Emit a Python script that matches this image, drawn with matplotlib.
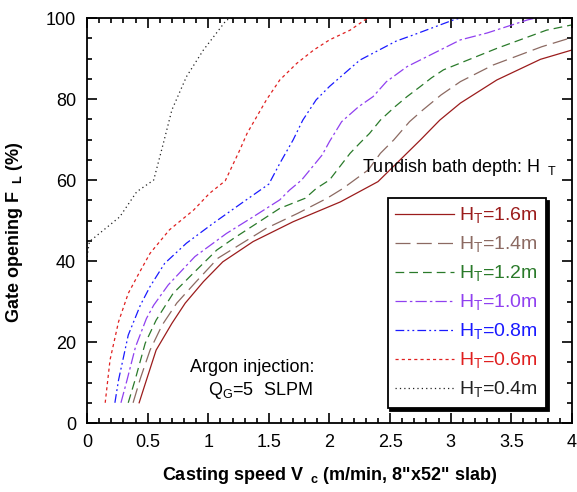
import matplotlib
matplotlib.use('Agg')
import matplotlib.pyplot as plt
from matplotlib.ticker import MultipleLocator, FuncFormatter

plt.rcParams['font.family'] = ['Liberation Sans', 'DejaVu Sans']
plt.rcParams['mathtext.fontset'] = 'custom'
plt.rcParams['mathtext.rm'] = 'Liberation Sans'
plt.rcParams['mathtext.bf'] = 'Liberation Sans:bold'

# Gate opening curves for each tundish bath depth H_T
labels = ['1.6m', '1.4m', '1.2m', '1.0m', '0.8m', '0.6m', '0.4m']

v_16 = [0.43, 0.49, 0.57, 0.70, 0.81, 0.96, 1.12, 1.37, 1.70, 2.09, 2.40, 2.75, 2.91, 3.08, 3.38, 3.74, 4.0]
f_16 = [5, 10.6, 18.0, 24.6, 29.6, 34.9, 39.8, 44.8, 49.7, 54.6, 59.6, 69.9, 74.8, 79.0, 84.7, 89.8, 92.1]

v_14 = [0.38, 0.44, 0.52, 0.62, 0.74, 0.90, 1.08, 1.48, 1.74, 1.98, 2.11, 2.32, 2.42, 2.53, 2.66, 2.77,
        2.92, 3.08, 3.35, 3.75, 4.0]
f_14 = [5, 11.0, 18.0, 24.2, 29.6, 34.9, 40.7, 48.1, 51.8, 55.5, 57.9, 62.5, 66.6, 69.9, 74.4, 77.3,
        81.0, 84.3, 88.4, 92.9, 95.2]

v_12 = [0.34, 0.40, 0.48, 0.57, 0.71, 0.86, 1.07, 1.21, 1.40, 1.59, 1.80, 1.89, 2.0, 2.17, 2.25, 2.33,
        2.42, 2.54, 2.64, 2.75, 2.84, 2.94, 3.38, 3.79, 4.0]
f_12 = [5, 11.0, 19.7, 25.4, 32.0, 36.5, 42.7, 45.6, 49.3, 53.0, 55.5, 57.9, 60.0, 66.6, 69.1, 71.5,
        74.8, 78.1, 80.6, 83.1, 85.2, 87.2, 92.5, 97.0, 98.3]

v_10 = [0.28, 0.33, 0.40, 0.49, 0.55, 0.67, 0.89, 1.15, 1.37, 1.59, 1.67, 1.77, 1.94, 2.0, 2.10, 2.24,
        2.36, 2.47, 2.64, 2.94, 3.08, 3.30, 3.63, 3.70]
f_10 = [5, 10.6, 18.8, 25.8, 29.1, 34.1, 41.1, 46.8, 50.9, 55.1, 57.5, 60.0, 66.2, 69.5, 74.4, 78.1,
        80.6, 84.3, 88.0, 92.5, 94.6, 96.3, 99.5, 100]

v_08 = [0.23, 0.26, 0.34, 0.44, 0.52, 0.64, 0.82, 1.04, 1.29, 1.50, 1.59, 1.70, 1.78, 1.89, 2.0, 2.25,
        2.55, 2.69, 3.02, 3.08]
f_08 = [5, 10.6, 21.7, 29.1, 33.7, 39.4, 44.4, 49.3, 54.6, 59.0, 64.1, 69.9, 74.8, 79.8, 83.1, 89.6,
        94.3, 95.8, 99.5, 100]

v_06 = [0.15, 0.19, 0.26, 0.34, 0.42, 0.52, 0.68, 0.88, 1.01, 1.14, 1.26, 1.32, 1.48, 1.59, 1.73, 1.87,
        2.0, 2.17, 2.29, 2.33]
f_06 = [5, 15.6, 25.0, 32.0, 36.5, 41.9, 47.7, 52.6, 56.7, 59.8, 67.4, 71.5, 79.8, 84.7, 88.8, 92.1,
        94.6, 97.0, 99.5, 100]

v_04 = [0.0, 0.02, 0.27, 0.41, 0.55, 0.63, 0.70, 0.82, 0.96, 1.15, 1.20]
f_04 = [41, 44.8, 50.9, 57.1, 60.0, 69.1, 77.3, 85.5, 92.1, 99.5, 100]

speeds = [v_16, v_14, v_12, v_10, v_08, v_06, v_04]
openings = [f_16, f_14, f_12, f_10, f_08, f_06, f_04]
colors = ['#9b1c1c', '#8c6a62', '#2a7a2a', '#9040f0', '#1a1aff', '#e02020', '#222222']
dashes = [None, (12, 5), (7, 4), (9, 2.5, 2, 2.5), (7, 2.5, 1.5, 2.5, 1.5, 2.5), (2.5, 2.5), (1, 2.5)]

fig = plt.figure(figsize=(5.77, 4.92), dpi=100)
ax = fig.add_axes([0.1508, 0.1402, 0.8405, 0.8232])

for v, f, c, d, lab in zip(speeds, openings, colors, dashes, labels):
    line, = ax.plot(v, f, color=c, linewidth=0.9, label='H$_\\mathrm{T}$=' + lab)
    if d is not None:
        line.set_dashes(d)

ax.set_xlim(0, 4)
ax.set_ylim(0, 100)
ax.xaxis.set_major_locator(MultipleLocator(0.5))
ax.xaxis.set_minor_locator(MultipleLocator(0.1))
ax.yaxis.set_major_locator(MultipleLocator(20))
ax.yaxis.set_minor_locator(MultipleLocator(5))
ax.xaxis.set_major_formatter(FuncFormatter(lambda x, p: '%g' % x))
ax.tick_params(which='both', direction='in', top=True, right=True, labelsize=13, width=1.2)
ax.tick_params(which='major', length=7, pad=8)
ax.tick_params(which='minor', length=3.5)
for s in ax.spines.values():
    s.set_linewidth(1.3)

ax.set_xlabel('Casting speed V$_{\\mathbf{\\ \\ c}}$ (m/min, 8"x52" slab)', fontsize=13, fontweight='bold', labelpad=10)
ax.set_ylabel('Gate opening F$_{\\mathbf{\\ \\ L}}$ (%)', fontsize=13, fontweight='bold')
ax.yaxis.set_label_coords(-0.127, 0.47)

ax.text(2.27, 62, 'Tundish bath depth: H$_{\\mathrm{\\ \\ T}}$', fontsize=13)
ax.text(0.85, 12.5, 'Argon injection:', fontsize=13)
ax.text(1.0, 7, 'Q$_\\mathrm{G}$=5  SLPM', fontsize=13)

leg = ax.legend(loc='lower left', bbox_to_anchor=(0.62, 0.037, 0.326, 0.526), mode='expand',
                fontsize=14, handlelength=3.0, handletextpad=0.25, labelspacing=0.45,
                borderaxespad=0, fancybox=False, framealpha=1, edgecolor='black',
                shadow={'color': 'black', 'alpha': 1})
leg.get_frame().set_linewidth(1.3)
for t, c in zip(leg.get_texts(), colors):
    t.set_color(c)

fig.savefig('out.png', dpi=100)
